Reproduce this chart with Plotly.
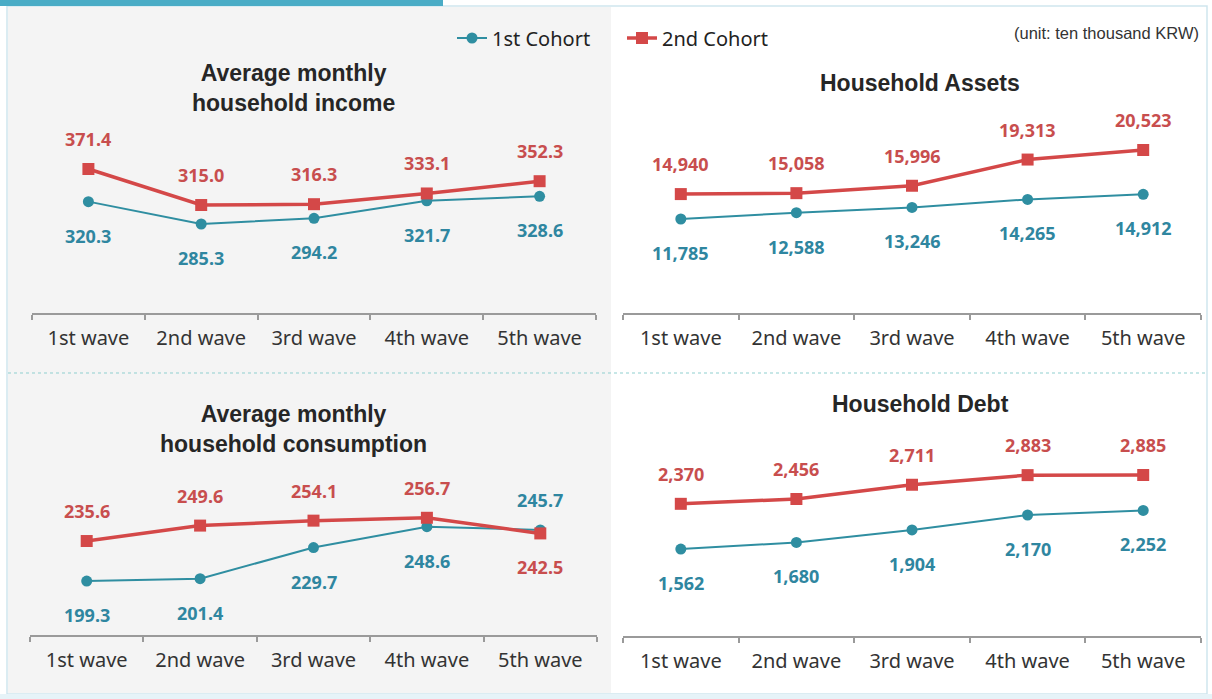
import plotly.graph_objects as go

# ---- data -------------------------------------------------------------
waves = ["1st wave", "2nd wave", "3rd wave", "4th wave", "5th wave"]
cohorts = ["1st Cohort", "2nd Cohort"]

income_1st = [320.3, 285.3, 294.2, 321.7, 328.6]
income_2nd = [371.4, 315.0, 316.3, 333.1, 352.3]

assets_1st = [11785, 12588, 13246, 14265, 14912]
assets_2nd = [14940, 15058, 15996, 19313, 20523]

consumption_1st = [199.3, 201.4, 229.7, 248.6, 245.7]
consumption_2nd = [235.6, 249.6, 254.1, 256.7, 242.5]

debt_1st = [1562, 1680, 1904, 2170, 2252]
debt_2nd = [2370, 2456, 2711, 2883, 2885]

# ---- styling ----------------------------------------------------------
W, H = 1212, 699
BLUE_LINE, BLUE_TEXT = "#2f8ea1", "#2f86a0"
RED_LINE, RED_TEXT = "#d44848", "#c84e4e"
LABEL_FONT = "Noto Sans"
TITLE_FONT = "Liberation Sans"


def px_x(p):
    return p / W


def px_y(p):
    return 1 - p / H


# panel geometry (pixels): x span of the category axis, y span of the plot
panels = [
    dict(name="income", x=(32, 596), y=(100, 313), yr=(146.0, 479.4),
         s1=income_1st, s2=income_2nd, fmt="{:.1f}",
         title="Average monthly<br>household income", tx=293, ty=88,
         pos1="below", pos2="above"),
    dict(name="assets", x=(623, 1201), y=(100, 313), yr=(-118, 26855),
         s1=assets_1st, s2=assets_2nd, fmt="{:,.0f}",
         title="Household Assets", tx=920, ty=83,
         pos1="below", pos2="above"),
    dict(name="consumption", x=(30, 597), y=(440, 635), yr=(150.3, 327.3),
         s1=consumption_1st, s2=consumption_2nd, fmt="{:.1f}",
         title="Average monthly<br>household consumption", tx=293, ty=429,
         pos1=["below", "below", "below", "below", "above"],
         pos2=["above", "above", "above", "above", "below"]),
    dict(name="debt", x=(623, 1201), y=(440, 636), yr=(7, 3511),
         s1=debt_1st, s2=debt_2nd, fmt="{:,.0f}",
         title="Household Debt", tx=920, ty=404,
         pos1="below", pos2="above"),
]

fig = go.Figure()
annotations = []
layout_axes = {}

for i, p in enumerate(panels):
    n = "" if i == 0 else str(i + 1)
    xa, ya = "x" + n, "y" + n
    layout_axes["xaxis" + n] = dict(
        domain=[px_x(p["x"][0]), px_x(p["x"][1])],
        anchor=ya, type="category", range=[-0.5, 4.5],
        tickson="boundaries", ticks="outside", ticklen=5, tickwidth=1.5,
        tickcolor="#9a9a9a", showline=True, linecolor="#9a9a9a", linewidth=2,
        showgrid=False, zeroline=False, ticklabelstandoff=6,
        tickfont=dict(family=LABEL_FONT, size=20, color="#333333"),
    )
    layout_axes["yaxis" + n] = dict(
        domain=[px_y(p["y"][1]), px_y(p["y"][0])],
        anchor=xa, range=list(p["yr"]), visible=False,
        showgrid=False, zeroline=False, fixedrange=True,
    )

    for k, (series, color, tcolor, sym, size, lw, pos) in enumerate([
        (p["s1"], BLUE_LINE, BLUE_TEXT, "circle", 11, 2, p["pos1"]),
        (p["s2"], RED_LINE, RED_TEXT, "square", 12, 3.5, p["pos2"]),
    ]):
        fig.add_trace(go.Scatter(
            x=waves, y=series, xaxis=xa, yaxis=ya,
            mode="lines+markers", name=cohorts[k],
            legendgroup=cohorts[k], showlegend=(i == 0),
            line=dict(color=color, width=lw),
            marker=dict(symbol=sym, size=size, color=color),
        ))
        positions = pos if isinstance(pos, list) else [pos] * len(series)
        for w, v, where in zip(waves, series, positions):
            annotations.append(dict(
                x=w, y=v, xref=xa, yref=ya, text=p["fmt"].format(v),
                showarrow=False, yshift=30 if where == "above" else -34,
                font=dict(family=LABEL_FONT, size=18, color=tcolor,
                          weight="bold"),
            ))

    annotations.append(dict(
        x=px_x(p["tx"]), y=px_y(p["ty"]), xref="paper", yref="paper",
        text="<b>" + p["title"] + "</b>", showarrow=False,
        font=dict(family=TITLE_FONT, size=23, color="#262626"),
        xanchor="center", yanchor="middle", align="center",
    ))

annotations.append(dict(
    x=px_x(1201), y=px_y(33), xref="paper", yref="paper",
    text="(unit: ten thousand KRW)", showarrow=False,
    xanchor="right", yanchor="middle",
    font=dict(family=TITLE_FONT, size=16.5, color="#333333"),
))

shapes = [
    # left (gray) panel background
    dict(type="rect", xref="paper", yref="paper", layer="below",
         x0=px_x(8), x1=px_x(611), y0=px_y(693), y1=px_y(7),
         fillcolor="#f4f4f4", line=dict(width=0)),
    # outer frame
    dict(type="rect", xref="paper", yref="paper", layer="below",
         x0=px_x(7), x1=px_x(1207), y0=px_y(694), y1=px_y(6),
         fillcolor="rgba(0,0,0,0)", line=dict(color="#cfe6ee", width=1.5)),
    # bottom band
    dict(type="rect", xref="paper", yref="paper", layer="below",
         x0=0, x1=1, y0=0, y1=px_y(694),
         fillcolor="#e6f3f8", line=dict(width=0)),
    # top accent bar
    dict(type="rect", xref="paper", yref="paper", layer="below",
         x0=0, x1=px_x(443), y0=px_y(6), y1=1,
         fillcolor="#4aacc6", line=dict(width=0)),
    # dotted separator between rows
    dict(type="line", xref="paper", yref="paper", layer="below",
         x0=px_x(8), x1=px_x(1207), y0=px_y(373), y1=px_y(373),
         line=dict(color="#8fcfcf", width=1, dash="dot")),
]

fig.update_layout(
    width=W, height=H,
    margin=dict(l=0, r=0, t=0, b=0),
    paper_bgcolor="white", plot_bgcolor="rgba(0,0,0,0)",
    showlegend=True,
    legend=dict(
        orientation="h", x=px_x(452), y=px_y(38), xanchor="left",
        yanchor="middle", bgcolor="rgba(0,0,0,0)",
        font=dict(family=LABEL_FONT, size=20, color="#222222"),
        itemwidth=30, tracegroupgap=0, entrywidth=125,
    ),
    annotations=annotations,
    shapes=shapes,
    **layout_axes,
)

fig.write_html("out.html")
